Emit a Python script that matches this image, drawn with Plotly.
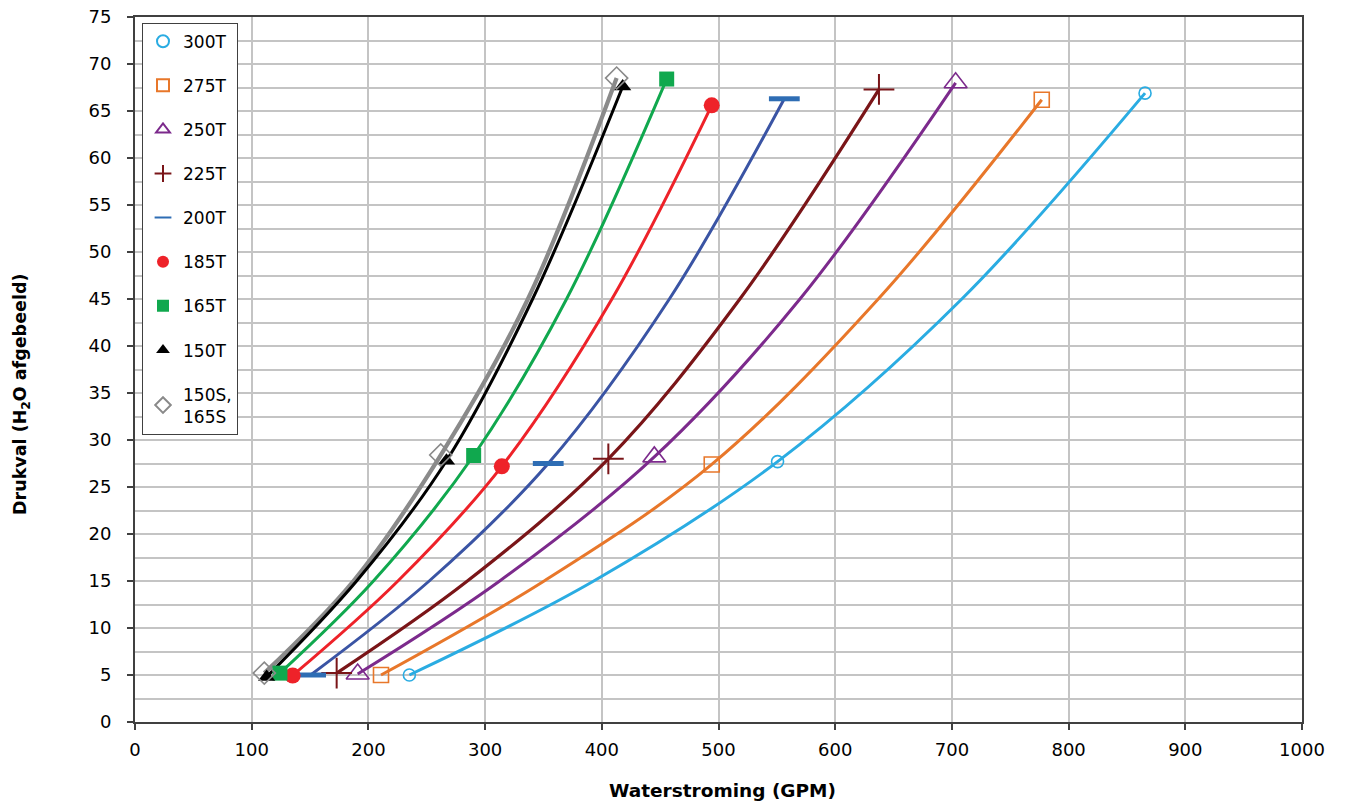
import plotly.graph_objects as go

# ---------------- data ----------------
series_names = ["300T", "275T", "250T", "225T", "200T", "185T", "165T", "150T", "150S,<br>165S"]

# curve points per series: [low marker, point on curve at 15, mid marker, point on curve at 45, top marker]
flow_300T = [235.1, 393.1, 550.6, 708.5, 865.5]
drop_300T = [5.0, 15.0, 27.7, 45.0, 66.9]
flow_275T = [210.8, 350.6, 494.2, 636.9, 777.0]
drop_275T = [5.0, 15.0, 27.4, 45.0, 66.2]
flow_250T = [190.8, 312.5, 445.0, 569.8, 703.2]
drop_250T = [5.1, 15.0, 28.2, 45.0, 68.0]
flow_225T = [172.8, 284.8, 405.6, 518.3, 637.5]
drop_225T = [5.2, 15.0, 28.0, 45.0, 67.3]
flow_200T = [150.5, 252.1, 354.1, 457.9, 556.4]
drop_200T = [5.0, 15.0, 27.5, 45.0, 66.3]
flow_185T = [135.1, 225.3, 314.3, 408.7, 494.2]
drop_185T = [4.95, 15.0, 27.2, 45.0, 65.6]
flow_165T = [124.2, 204.3, 290.2, 369.8, 455.6]
drop_165T = [5.2, 15.0, 28.35, 45.0, 68.4]
flow_150T = [112.8, 189.9, 266.9, 340.7, 417.9]
drop_150T = [4.8, 15.0, 27.8, 45.0, 67.6]
flow_150S = [110.8, 187.2, 262.0, 336.7, 412.7]
drop_150S = [5.2, 15.0, 28.4, 45.0, 68.5]

marker_idx = [0, 2, 4]

x_ticks = [0, 100, 200, 300, 400, 500, 600, 700, 800, 900, 1000]
y_ticks = [0, 5, 10, 15, 20, 25, 30, 35, 40, 45, 50, 55, 60, 65, 70, 75]

x_title = "<b>Waterstroming (GPM)</b>"
y_title = "<b>Drukval (H<sub>2</sub>O afgebeeld)</b>"

# ---------------- styles ----------------
flows = [flow_300T, flow_275T, flow_250T, flow_225T, flow_200T, flow_185T, flow_165T, flow_150T, flow_150S]
drops = [drop_300T, drop_275T, drop_250T, drop_225T, drop_200T, drop_185T, drop_165T, drop_150T, drop_150S]
line_colors = ["#2AACE2", "#E8772A", "#7C2A8C", "#7A1518", "#3A54A4", "#EE2229", "#10A84E", "#000000", "#8A8A8A"]
line_widths = [3, 3, 3, 3.2, 3, 3, 3, 3, 4.2]
marker_styles = [
    dict(symbol="circle-open", size=12, color="#2AACE2", line=dict(width=1.6, color="#2AACE2")),
    dict(symbol="square-open", size=15, color="#E8772A", line=dict(width=1.6, color="#E8772A")),
    dict(symbol="triangle-up-open", size=20, color="#7C2A8C", line=dict(width=1.6, color="#7C2A8C")),
    dict(symbol="cross-thin-open", size=22, color="#7A1518", line=dict(width=2, color="#7A1518")),
    dict(symbol="line-ew-open", size=22, color="#2E6DB4", line=dict(width=5, color="#2E6DB4")),
    dict(symbol="circle", size=16, color="#EE2229", line=dict(width=0)),
    dict(symbol="square", size=15, color="#10A84E", line=dict(width=0)),
    dict(symbol="triangle-up", size=15, color="#000000", line=dict(width=0)),
    dict(symbol="diamond-open", size=17, color="#8A8A8A", line=dict(width=1.6, color="#8A8A8A")),
]

fig = go.Figure()

# lines (drawn in reverse order so grey sits beneath black)
for i in reversed(range(len(series_names))):
    fig.add_trace(go.Scatter(
        x=flows[i], y=drops[i], mode="lines",
        line=dict(color=line_colors[i], width=line_widths[i], shape="spline", smoothing=1.0),
        showlegend=False, hoverinfo="skip",
    ))

# markers (legend entries)
for i, name in enumerate(series_names):
    fig.add_trace(go.Scatter(
        x=[flows[i][k] for k in marker_idx],
        y=[drops[i][k] for k in marker_idx],
        mode="markers", name=name, legendgroup=f"g{i}",
        marker=marker_styles[i],
    ))

font_family = "DejaVu Sans, Liberation Sans, Arial, sans-serif"
axis_line = "#404040"
grid_col = "#C4C4C4"

fig.update_layout(
    width=1345, height=807,
    margin=dict(l=135, r=43, t=17, b=85),
    paper_bgcolor="white", plot_bgcolor="white",
    font=dict(family=font_family, size=17, color="#000000"),
    showlegend=True,
    legend=dict(
        x=0.006, y=0.992, xanchor="left", yanchor="top",
        bgcolor="white", bordercolor="#404040", borderwidth=1,
        font=dict(size=17, family=font_family),
        traceorder="grouped", tracegroupgap=19,
        itemsizing="constant", itemwidth=30,
    ),
    xaxis=dict(
        range=[0, 1000], tickvals=x_ticks, ticktext=[str(v) for v in x_ticks],
        showgrid=True, gridcolor=grid_col, gridwidth=1.5,
        showline=True, linecolor=axis_line, linewidth=2, mirror=True,
        ticks="outside", ticklen=6, tickcolor=axis_line, tickwidth=1.5,
        ticklabelstandoff=4, ticklabeloverflow="allow",
        zeroline=False, automargin=False,
        tickfont=dict(size=18),
    ),
    yaxis=dict(
        range=[0, 75], tickvals=y_ticks, ticktext=[str(v) for v in y_ticks],
        showgrid=True, gridcolor=grid_col, gridwidth=1.5,
        minor=dict(dtick=2.5, showgrid=True, gridcolor=grid_col, gridwidth=1.5, ticks=""),
        showline=True, linecolor=axis_line, linewidth=2, mirror=True,
        ticks="outside", ticklen=6, tickcolor=axis_line, tickwidth=1.5,
        ticklabelstandoff=12, ticklabeloverflow="allow",
        zeroline=False, automargin=False,
        tickfont=dict(size=18),
    ),
    annotations=[
        dict(text=x_title, xref="paper", yref="paper", x=0.5035, y=-0.097,
             xanchor="center", yanchor="middle", showarrow=False,
             font=dict(size=18.5, family=font_family)),
        dict(text=y_title, xref="paper", yref="paper", x=-0.0968, y=0.464,
             xanchor="center", yanchor="middle", showarrow=False, textangle=-90,
             font=dict(size=17.5, family=font_family)),
    ],
)

fig.write_html("out.html", config={"displayModeBar": False},
               post_script="document.body.style.margin='0px';")
